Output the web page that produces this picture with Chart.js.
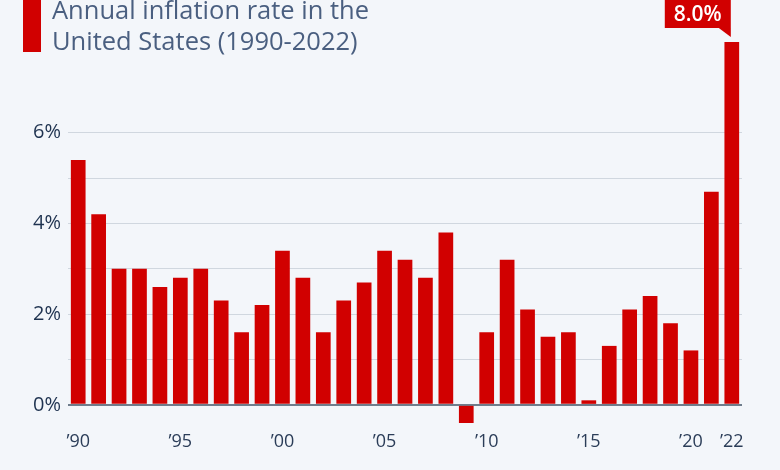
<!DOCTYPE html>
<html>
<head>
<meta charset="utf-8">
<script src="https://cdn.jsdelivr.net/npm/chart.js@4/dist/chart.umd.min.js"></script>
<style>
  html, body { margin: 0; padding: 0; background: #f3f6fa; }
  #wrap { position: relative; width: 780px; height: 470px; overflow: hidden; }
  #marker { position: absolute; left: 23px; top: 0; width: 18px; height: 52px; background: #d10000; }
  #title {
    position: absolute; left: 52px; top: -6px;
    font-family: 'Open Sans', sans-serif; font-size: 25.5px; line-height: 31px;
    color: #4a5f80;
  }
  canvas { position: absolute; left: 0; top: 0; }
</style>
</head>
<body>
<div id="wrap">
  <canvas id="chart" width="780" height="470"></canvas>
  <div id="marker"></div>
  <div id="title">Annual inflation rate in the<br>United States (1990-2022)</div>
</div>
<script>
const years = [1990, 1991, 1992, 1993, 1994, 1995, 1996, 1997, 1998, 1999,
  2000, 2001, 2002, 2003, 2004, 2005, 2006, 2007, 2008, 2009,
  2010, 2011, 2012, 2013, 2014, 2015, 2016, 2017, 2018, 2019,
  2020, 2021, 2022];
const inflation = [5.4, 4.2, 3.0, 3.0, 2.6, 2.8, 3.0, 2.3, 1.6, 2.2,
  3.4, 2.8, 1.6, 2.3, 2.7, 3.4, 3.2, 2.8, 3.8, -0.4,
  1.6, 3.2, 2.1, 1.5, 1.6, 0.1, 1.3, 2.1, 2.4, 1.8,
  1.2, 4.7, 8.0];
const labeledYears = [1990, 1995, 2000, 2005, 2010, 2015, 2020, 2022];
const yTickLabels = [0, 2, 4, 6];

const red = '#d10000';

// callout box over the last bar
const calloutPlugin = {
  id: 'callout',
  afterDatasetsDraw(chart) {
    const ctx = chart.ctx;
    const meta = chart.getDatasetMeta(0);
    const last = meta.data[meta.data.length - 1];
    const value = inflation[inflation.length - 1];
    const right = last.x - 1;
    const boxW = 66, boxH = 28;
    const left = right - boxW;
    const top = last.y - 42;
    ctx.save();
    ctx.fillStyle = red;
    ctx.fillRect(left, top, boxW, boxH);
    ctx.beginPath();
    ctx.moveTo(right - 12, top + boxH);
    ctx.lineTo(right, top + boxH);
    ctx.lineTo(right, top + boxH + 9);
    ctx.closePath();
    ctx.fill();
    ctx.fillStyle = '#ffffff';
    ctx.font = '600 21px "Open Sans", sans-serif';
    ctx.textAlign = 'center';
    ctx.textBaseline = 'middle';
    ctx.fillText(value.toFixed(1) + '%', left + boxW / 2, top + boxH / 2 + 1);
    ctx.restore();
  }
};

new Chart(document.getElementById('chart').getContext('2d'), {
  type: 'bar',
  data: {
    labels: years,
    datasets: [{
      data: inflation,
      backgroundColor: red,
      borderWidth: 0,
      barPercentage: 0.72,
      categoryPercentage: 1
    }]
  },
  options: {
    responsive: false,
    animation: false,
    layout: { padding: { top: 42, right: 38, left: 0, bottom: 0 } },
    scales: {
      x: {
        grid: { display: false },
        border: { display: false },
        ticks: {
          autoSkip: false,
          maxRotation: 0,
          padding: 0,
          color: '#2b3d58',
          font: { family: 'Open Sans', size: 18 },
          callback: function (val, i) {
            const y = years[i];
            return labeledYears.includes(y) ? '\u2019' + String(y).slice(2) : '';
          }
        },
        afterFit: s => { s.height = 47; }
      },
      y: {
        min: -0.4,
        max: 8,
        border: { display: false },
        afterBuildTicks: s => {
          s.ticks = [0, 1, 2, 3, 4, 5, 6, 7, 8].map(v => ({ value: v }));
        },
        grid: {
          drawTicks: false,
          lineWidth: ctx => (ctx.tick && ctx.tick.value === 0 ? 2 : 1),
          color: ctx => {
            const v = ctx.tick && ctx.tick.value;
            if (v === 0) return '#6f7d8c';
            if (v > 0 && v <= 6) return '#d0d7df';
            return 'rgba(0,0,0,0)';
          }
        },
        ticks: {
          padding: 7,
          color: '#1f3350',
          font: { family: 'Open Sans', size: 20 },
          callback: v => (yTickLabels.includes(v) ? v + '%' : '')
        },
        afterFit: s => { s.width = 68; }
      }
    },
    plugins: {
      legend: { display: false },
      tooltip: { enabled: false }
    }
  },
  plugins: [calloutPlugin]
});
</script>
</body>
</html>
